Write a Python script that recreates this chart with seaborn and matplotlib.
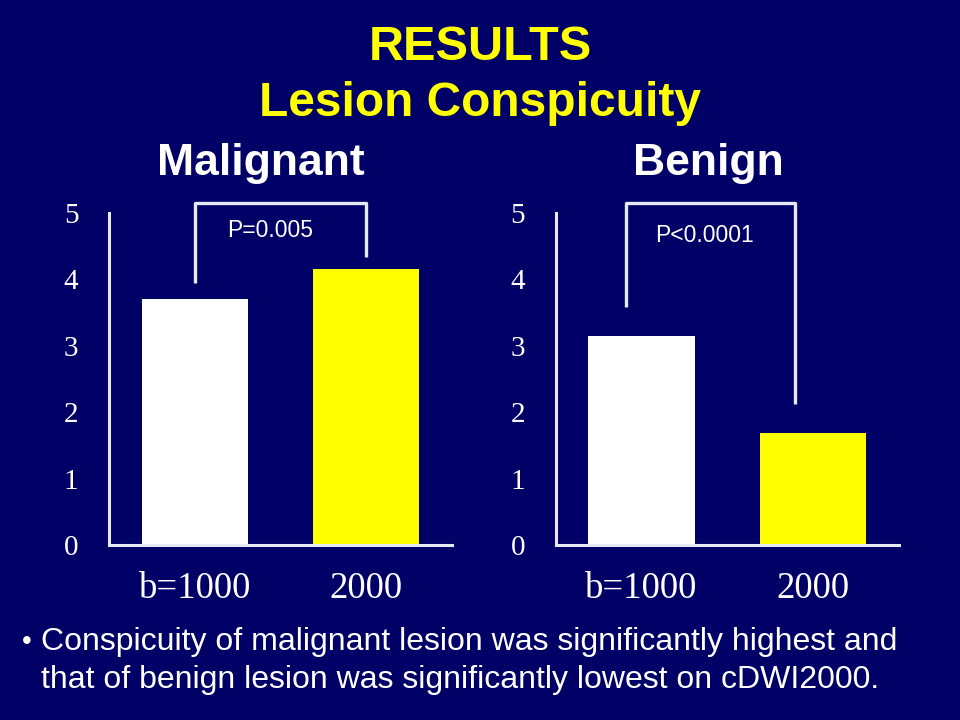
import matplotlib
matplotlib.use('Agg')
import matplotlib.pyplot as plt
import pandas as pd
import seaborn as sns

# Data
groups = ['b=1000', '2000']
malignant = [3.70, 4.16]
benign = [3.15, 1.69]
bar_colors = ['#FFFFFF', '#FFFF00']
p_malignant = 'P=0.005'
p_benign = 'P<0.0001'

bg = '#000066'
sns.set_style('white')
plt.rcParams['font.family'] = ['Liberation Sans', 'DejaVu Sans']

fig = plt.figure(figsize=(9.6, 7.2), dpi=100, facecolor=bg)

# title
fig.text(0.5, 1 - 47/720, 'RESULTS', ha='center', va='center',
         color='#FFFF00', fontsize=35, fontweight='bold')
fig.text(0.5, 1 - 103/720, 'Lesion Conspicuity', ha='center', va='center',
         color='#FFFF00', fontsize=34.5, fontweight='bold')


def panel(left, values, name, name_x, ptext, bracket, ptxt_pos):
    ax = fig.add_axes([left, 175/720, 343/960, 332/720])
    ax.set_facecolor(bg)
    df = pd.DataFrame({'group': groups, 'value': values})
    sns.barplot(data=df, x='group', y='value', hue='group', palette=bar_colors,
                order=groups, legend=False, width=0.62, saturation=1,
                linewidth=0, ax=ax)
    ax.set_xlim(-0.5, 1.5)
    ax.set_ylim(0, 5)
    ax.set_yticks(range(0, 6))
    ax.set_xlabel('')
    ax.set_ylabel('')
    for s in ['top', 'right']:
        ax.spines[s].set_visible(False)
    for s in ['left', 'bottom']:
        ax.spines[s].set_color('#E6EAF6')
        ax.spines[s].set_linewidth(2.2)
    ax.tick_params(axis='y', length=0, pad=22, colors='white', labelsize=21)
    ax.tick_params(axis='x', length=0, pad=19, colors='white', labelsize=26.5)
    for lab in ax.get_xticklabels() + ax.get_yticklabels():
        lab.set_family(['Liberation Serif', 'DejaVu Serif'])
    # significance bracket
    xl, xr, top, yl, yr = bracket
    ax.plot([xl, xl, xr, xr], [yl, top, top, yr], color='#E6EAF6', lw=2.4,
            clip_on=False, solid_capstyle='butt')
    ax.text(ptxt_pos[0], ptxt_pos[1], ptext, ha='center', va='center',
            color='white', fontsize=16.5)
    fig.text(name_x, 1 - 163/720, name, ha='center', va='center',
             color='white', fontsize=32, fontweight='bold')
    return ax


panel(109/960, malignant, 'Malignant', 261/960, p_malignant,
      (0.0, 1.0, 5.15, 3.95, 4.34), (0.44, 4.74))
panel(555.75/960, benign, 'Benign', 708/960, p_benign,
      (-0.09, 0.895, 5.15, 3.58, 2.12), (0.37, 4.66))

fig.text(22/960, 1 - 642/720, '\u2022', ha='left', va='center',
         color='white', fontsize=20)
fig.text(41/960, 1 - 642/720,
         'Conspicuity of malignant lesion was significantly highest and',
         ha='left', va='center', color='white', fontsize=23)
fig.text(41/960, 1 - 680/720,
         'that of benign lesion was significantly lowest on cDWI2000.',
         ha='left', va='center', color='white', fontsize=23)

fig.savefig('out.png', dpi=100, facecolor=bg)
